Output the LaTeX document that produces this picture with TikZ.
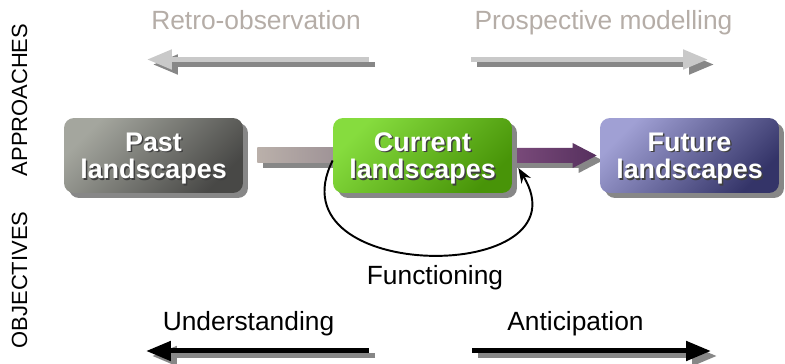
\documentclass[tikz,border=0pt]{standalone}
\usepackage{fontspec}
\setmainfont{Liberation Sans}
\usetikzlibrary{arrows.meta, shadows, backgrounds}

\definecolor{pastlight}{HTML}{A4A69E}
\definecolor{pastdark}{HTML}{484846}
\definecolor{currlight}{HTML}{86DC3E}
\definecolor{currdark}{HTML}{489408}
\definecolor{futlight}{HTML}{A0A0D4}
\definecolor{futdark}{HTML}{343468}
\definecolor{bandleft}{HTML}{BAB0AA}
\definecolor{bandright}{HTML}{9E9296}
\definecolor{plumleft}{HTML}{7C4C7C}
\definecolor{plumright}{HTML}{56305E}
\definecolor{shadowgray}{HTML}{878787}
\definecolor{paleline}{HTML}{C9C9C9}
\definecolor{headtext}{HTML}{B5ADA7}

\begin{document}
\begin{tikzpicture}[x=0.02cm, y=-0.02cm,
	landbox/.style={rounded corners=0.2cm, minimum width=3.58cm, minimum height=1.5cm, inner sep=0pt,
		drop shadow={shadow xshift=0.1cm, shadow yshift=-0.1cm, fill=shadowgray, opacity=1}},
	boxtext/.style={text=white, align=center, font=\bfseries\fontsize{15.3}{15.6}\selectfont},
	boxshadow/.style={boxtext, text=black!75},
	labeltext/.style={font=\fontsize{15}{18}\selectfont},
	sidetext/.style={rotate=90, font=\fontsize{12.5}{14}\selectfont},
	bigarrow/.style={line width=0.1cm, -{Triangle[length=0.5cm, width=0.38cm]}},
	castshadow/.style={transform canvas={xshift=0.12cm, yshift=-0.1cm}}]
				\useasboundingbox (0,0) rectangle (785,364);

				% Side headings
				\node[sidetext] (approaches) at (19.5, 100) {APPROACHES};
				\node[sidetext] (objectives) at (19.5, 280) {OBJECTIVES};

				% Landscapes
				\node[landbox, top color=pastlight, bottom color=pastdark, shading angle=45] (past) at (153.5, 155.5) {};
				\node[landbox, top color=currlight, bottom color=currdark, shading angle=45] (current) at (422.5, 155.5) {};
				\node[landbox, top color=futlight, bottom color=futdark, shading angle=45] (future) at (689.5, 155.5) {};

				\node[boxshadow] (past shadow) at ([shift={(1.5,4.5)}]past.center) {Past\\landscapes};
				\node[boxtext] (past text) at ([shift={(0,3)}]past.center) {Past\\landscapes};
				\node[boxshadow] (current shadow) at ([shift={(1.5,4.5)}]current.center) {Current\\landscapes};
				\node[boxtext] (current text) at ([shift={(0,3)}]current.center) {Current\\landscapes};
				\node[boxshadow] (future shadow) at ([shift={(1.5,4.5)}]future.center) {Future\\landscapes};
				\node[boxtext] (future text) at ([shift={(0,3)}]future.center) {Future\\landscapes};

				% Labels
				\node[labeltext, text=headtext, anchor=base] (retro) at (256, 30) {Retro-observation};
				\node[labeltext, text=headtext, anchor=base] (prospect) at (603.5, 30) {Prospective modelling};
				\node[labeltext, anchor=base] (functioning) at (435, 285) {Functioning};
				\node[labeltext, anchor=base] (understanding) at (248.5, 331) {Understanding};
				\node[labeltext, anchor=base] (anticipation) at (575.5, 331) {Anticipation};

				% Arrow ends
				\coordinate (retro tail) at (369, 59.5);
				\coordinate (retro tip) at (147, 59.5);
				\coordinate (prospect tail) at (471, 59.5);
				\coordinate (prospect tip) at (708, 59.5);
				\coordinate (understanding tail) at (369, 351);
				\coordinate (understanding tip) at (146, 351);
				\coordinate (anticipation tail) at (472, 351);
				\coordinate (anticipation tip) at (711, 351);

				% Long arrows
				\draw[bigarrow, shadowgray, castshadow] (retro tail) -- (retro tip);
				\draw[bigarrow, paleline] (retro tail) -- (retro tip);
				\draw[bigarrow, shadowgray, castshadow] (prospect tail) -- (prospect tip);
				\draw[bigarrow, paleline] (prospect tail) -- (prospect tip);
				\draw[bigarrow, shadowgray, castshadow] (understanding tail) -- (understanding tip);
				\draw[bigarrow, black] (understanding tail) -- (understanding tip);
				\draw[bigarrow, shadowgray, castshadow] (anticipation tail) -- (anticipation tip);
				\draw[bigarrow, black] (anticipation tail) -- (anticipation tip);

				% Edges between landscapes
				\begin{scope}[on background layer]
					\fill[castshadow, shadowgray] ([shift={(14,-7.5)}]past.east) rectangle ([shift={(5,7.5)}]current.west);
					\shade[left color=bandleft, right color=bandright] ([shift={(14,-7.5)}]past.east) rectangle ([shift={(5,7.5)}]current.west);
					\fill[castshadow, shadowgray] ([shift={(-4,-7.5)}]current.east) -- ([shift={(-27,-7.5)}]future.west)
						-- ([shift={(-27,-12.5)}]future.west) -- ([shift={(-3,0)}]future.west) -- ([shift={(-27,12.5)}]future.west)
						-- ([shift={(-27,7.5)}]future.west) -- ([shift={(-4,7.5)}]current.east) -- cycle;
					\shade[left color=plumleft, right color=plumright] ([shift={(-4,-7.5)}]current.east) -- ([shift={(-27,-7.5)}]future.west)
						-- ([shift={(-27,-12.5)}]future.west) -- ([shift={(-3,0)}]future.west) -- ([shift={(-27,12.5)}]future.west)
						-- ([shift={(-27,7.5)}]future.west) -- ([shift={(-4,7.5)}]current.east) -- cycle;
				\end{scope}

				% Functioning loop
				\draw[line width=1.1pt, -{Stealth[length=0.3cm, width=0.22cm]}] ([shift={(0,5)}]current.west)
					.. controls (270,285) and (590,285) .. ([shift={(6,12.5)}]current.east);
\end{tikzpicture}
\end{document}
